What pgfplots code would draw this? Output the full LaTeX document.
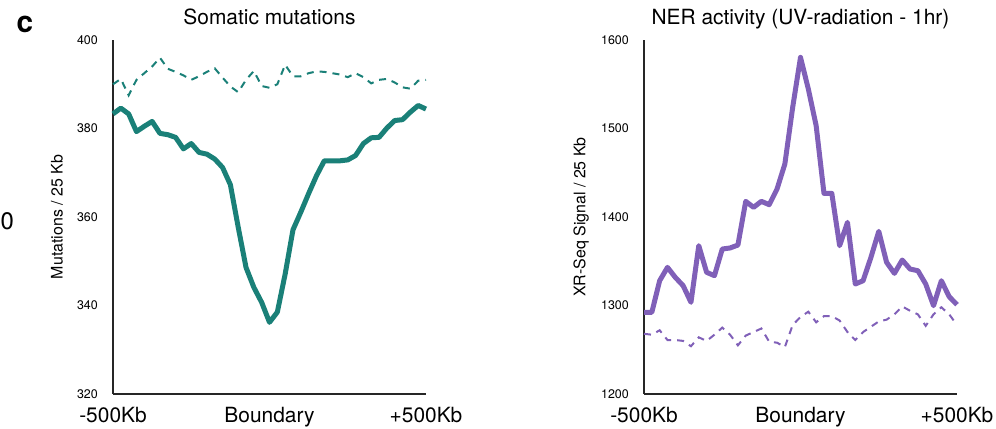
\documentclass[border=0pt]{standalone}
\usepackage{pgfplots}
\pgfplotsset{compat=1.18}
\usepackage{pgfplotstable}
\usepackage{fontspec}
\setmainfont{TeX Gyre Heros}
\definecolor{tealc}{RGB}{26,128,120}
\definecolor{purplec}{RGB}{128,96,184}

\pgfplotstableread{
x s d
-500 383.3 390.0
-475 384.6 391.2
-450 383.3 387.5
-425 379.3 391.0
-400 380.5 392.5
-375 381.6 394.0
-350 378.9 396.0
-325 378.6 393.5
-300 378.0 392.8
-275 375.4 392.0
-250 376.6 391.0
-225 374.6 391.8
-200 374.2 392.8
-175 373.1 393.6
-150 371.2 391.5
-125 367.3 389.5
-100 357.7 388.2
-75 348.6 391.0
-50 344.1 393.0
-25 340.7 389.6
0 336.2 389.2
25 338.5 390.0
50 347.1 394.4
75 357.1 391.8
100 361.1 391.8
125 365.3 392.5
150 369.3 392.9
175 372.7 392.8
200 372.7 392.5
225 372.7 392.2
250 372.9 391.6
275 373.9 392.5
300 376.6 391.6
325 377.9 390.2
350 378.0 391.0
375 380.1 391.2
400 381.8 390.4
425 382.0 389.3
450 383.7 389.0
475 385.2 390.8
500 384.4 391.0
}\somatic

\pgfplotstableread{
x s d
-500 1292.3 1268
-475 1292.3 1267
-450 1328.0 1272
-425 1343.1 1261
-400 1331.8 1261
-375 1322.4 1260
-350 1303.6 1254
-325 1367.6 1264
-300 1337.5 1260
-275 1333.7 1267
-250 1363.8 1275
-225 1365.0 1267
-200 1368.3 1255
-175 1417.7 1266
-150 1410.9 1270
-125 1417.7 1274
-100 1413.9 1259
-75 1431.6 1258
-50 1459.9 1253
-25 1523.9 1278
0 1580.4 1287
25 1544.6 1293
50 1503.2 1281
75 1426.7 1288
100 1426.7 1288
125 1367.6 1283
150 1394.0 1270
175 1324.3 1261
200 1328.0 1270
225 1354.4 1276
250 1383.8 1282
275 1348.8 1284
300 1336.3 1290
325 1351.4 1299
350 1341.2 1294
375 1339.3 1290
400 1324.3 1277
425 1299.8 1290
450 1328.0 1298
475 1310.0 1290
500 1300.9 1278
}\ner

\pgfplotsset{
  panel/.style={
    scale only axis,
    width=313bp, height=354bp,
    xmin=-500, xmax=500,
    axis x line*=bottom, axis y line*=left,
    axis line style={-, line width=1.8bp, black!85},
    major tick length=0pt,
    xtick={-500,0,500},
    xticklabels={-500Kb,Boundary,+500Kb},
    xticklabel style={font=\fontsize{21}{24}\selectfont, anchor=north, inner sep=0pt, yshift=-13bp},
    yticklabel style={font=\fontsize{12.5}{14}\selectfont, anchor=east, inner sep=0pt, xshift=-15bp},
    /pgf/number format/assume math mode=true,
    /pgf/number format/1000 sep={},
    title style={at={(axis description cs:0.5,1)}, anchor=base, yshift=10bp, font=\fontsize{21}{24}\selectfont, inner sep=0pt},
    ylabel style={font=\fontsize{16}{18}\selectfont, anchor=center},
    clip=false,
  }
}

\begin{document}
\begin{tikzpicture}
\useasboundingbox (0,0) rectangle (996bp,429bp);
\node[anchor=west, font=\fontsize{30}{32}\selectfont\bfseries] at (13bp,405bp) {c};
\node[anchor=west, font=\fontsize{24}{26}\selectfont, inner sep=0pt] at (0.5bp,208bp) {0};

\begin{axis}[panel, at={(113bp,35bp)}, anchor=south west,
  ymin=320, ymax=400, ytick={320,340,...,400},
  title={Somatic mutations},
  ylabel={Mutations / 25 Kb},
  ylabel style={at={(axis description cs:-0.179,0.5)}},
]
\addplot[tealc, line width=2bp, dash pattern=on 7bp off 6bp] table[x=x,y=d] {\somatic};
\addplot[tealc, line width=5bp, line join=round] table[x=x,y=s] {\somatic};
\end{axis}

\begin{axis}[panel, at={(644bp,35bp)}, anchor=south west,
  ymin=1200, ymax=1600, ytick={1200,1300,...,1600},
  title={NER activity (UV-radiation - 1hr)},
  ylabel={XR-Seq Signal / 25 Kb},
  ylabel style={at={(axis description cs:-0.201,0.5)}},
]
\addplot[purplec, line width=2bp, dash pattern=on 7bp off 6bp] table[x=x,y=d] {\ner};
\addplot[purplec, line width=5bp, line join=round] table[x=x,y=s] {\ner};
\end{axis}
\end{tikzpicture}
\end{document}
